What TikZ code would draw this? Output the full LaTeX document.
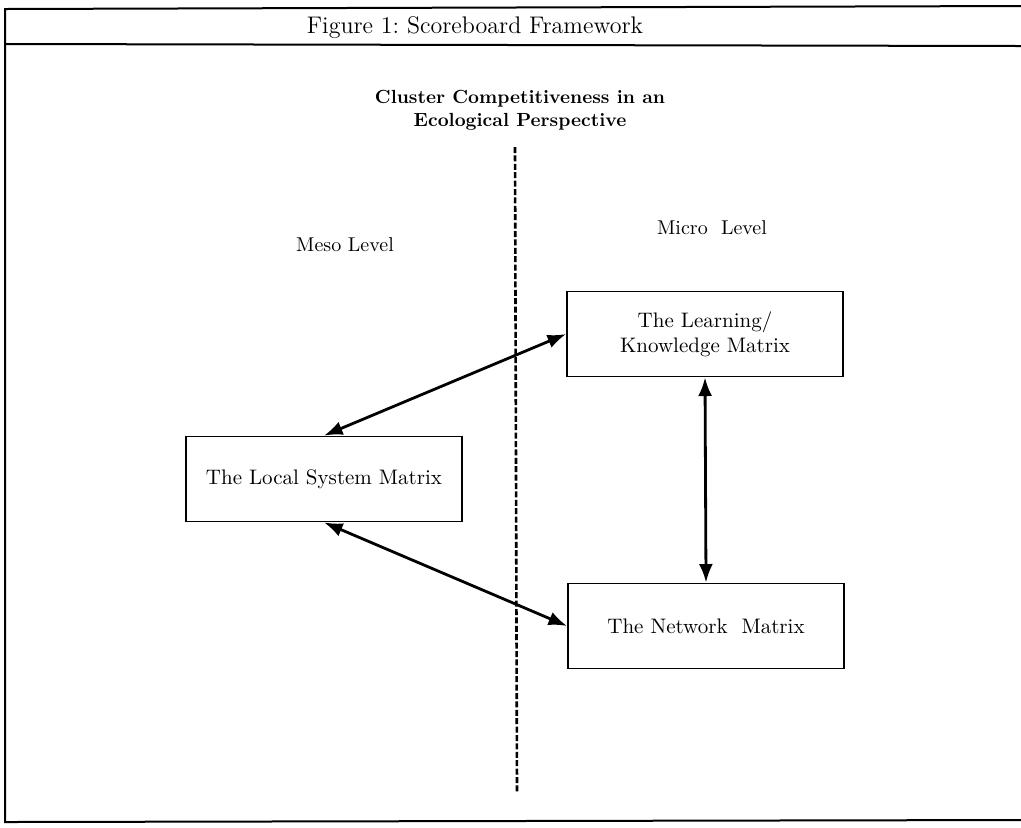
\documentclass[tikz,border=0pt]{standalone}
\usepackage{tikz}
\usetikzlibrary{arrows.meta,positioning,calc}

\begin{document}
\begin{tikzpicture}[x = .5pt, y = -.5pt, font = \fontsize{10.5}{12.5}\selectfont]
\tikzset{
  matrixbox/.style = {draw, line width = .9pt, minimum width = 138pt, minimum height = 42.5pt, align = center},
  link/.style = {Latex-Latex, line width = 1.4pt}
}
\useasboundingbox (0, 0) rectangle (1021, 827);
% frame
\draw[line width = 1pt] (1021, 6) -- (5, 9) -- (5, 822) -- (1021, 820);
\draw[line width = 1pt] (5, 44) -- (1021, 46);
\node (title) at (475, 28) {\fontsize{12}{14}\selectfont Figure 1:\ Scoreboard Framework};
\node[align = center, font = \fontsize{9.5}{11.5}\selectfont\bfseries] (persp) at (520, 110) {Cluster Competitiveness in an\\Ecological Perspective};
% divider
\coordinate (top) at (515, 147);
\coordinate (bot) at (517, 792);
\draw[line width = 1.3pt, dash pattern = on 3pt off 1.2pt] (top) -- (bot);
\node[font = \fontsize{10}{12}\selectfont] (meso) at (345, 245) {Meso Level};
\node[font = \fontsize{10}{12}\selectfont] (micro) at (712, 228) {Micro\ \ Level};
% matrices
\node[matrixbox] (local) at (324, 479) {The Local System Matrix};
\node[matrixbox] (learn) at (705, 334) {The Learning/\\Knowledge Matrix};
\node[matrixbox] (net) at (706, 626) {The Network\ \ Matrix};
\draw[link] (local.north) -- (learn.west);
\draw[link] (local.south) -- (net.west);
\draw[link] (learn.south) -- (net.north);
\end{tikzpicture}
\end{document}
